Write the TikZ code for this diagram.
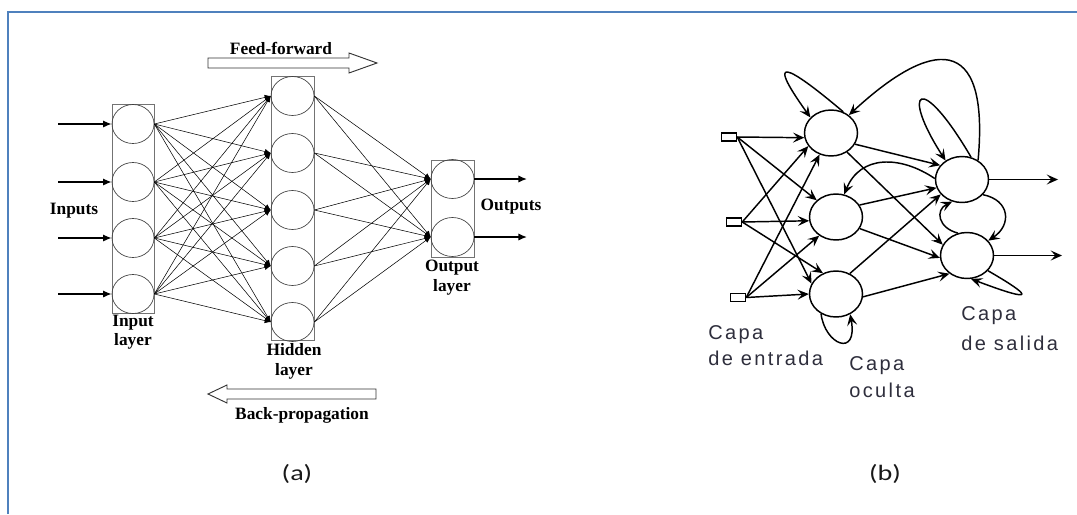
\documentclass[tikz,border=0pt]{standalone}
\usepackage{fontspec}
\setmainfont{Liberation Serif}
\newfontfamily\capfont[LetterSpace=12]{Liberation Sans}
\newfontfamily\tagfont[FakeStretch=1.28]{Carlito}
\usetikzlibrary{arrows.meta,shapes.geometric}
\definecolor{framecol}{HTML}{4F81BD}
\definecolor{capcol}{HTML}{2E2E3C}

\begin{document}
\begin{tikzpicture}[x=0.75pt,y=-0.75pt,
  neuron/.style={draw=black!75, line width=0.5pt, ellipse, minimum width=31.5pt, minimum height=29.25pt, inner sep=0pt},
  layerbox/.style={draw=black!55, line width=0.6pt, rectangle, inner sep=0pt},
  wire/.style={draw=black, line width=0.4pt, -{Latex[length=4.5pt,width=4pt]}},
  feed/.style={line width=1.1pt, -{Latex[length=6.5pt,width=5.5pt]}},
  lbl/.style={font=\bfseries\fontsize{13}{14.5}\selectfont, align=center, inner sep=0pt},
  bigarrow/.style={draw=black!80, line width=0.7pt, fill=white},
  unit/.style={draw, ellipse, line width=1.1pt, minimum width=39.75pt, minimum height=34.5pt, inner sep=0pt},
  port/.style={draw, rectangle, line width=1.1pt, minimum width=11.25pt, minimum height=6pt, inner sep=0pt},
  link/.style={line width=1.1pt, -{Stealth[length=8.5pt,width=7.5pt,inset=3.5pt]}},
  captxt/.style={font=\capfont\fontsize{15}{20}\selectfont, text=capcol, align=left, inner sep=0pt, anchor=west},
  tag/.style={font=\tagfont\fontsize{16.5}{20}\selectfont, text=black!90, inner sep=0pt},
]
\useasboundingbox (0,0) rectangle (1077,514);

% outer frame
\draw[framecol, line width=2.2pt] (8,514) -- (8,12) -- (1077,12);

%% (a) feed-forward network
\node[layerbox, minimum width=31.5pt, minimum height=156.75pt] (inbox) at (133,208.5) {};
\node[layerbox, minimum width=32.25pt, minimum height=198pt] (hidbox) at (292.5,208) {};
\node[layerbox, minimum width=32.25pt, minimum height=72.75pt] (outbox) at (452.5,208.5) {};

\foreach \n/\y in {1/124,2/182,3/238,4/294}
  \node[neuron] (i\n) at (133,\y) {};
\foreach \n/\y in {1/96,2/153,3/210,4/266,5/322}
  \node[neuron, minimum width=32.25pt] (h\n) at (292.5,\y) {};
\foreach \n/\y in {1/179,2/237}
  \node[neuron, minimum width=32.25pt] (o\n) at (452.5,\y) {};

\foreach \i in {1,...,4}
  \foreach \h in {1,...,5}
    \draw[wire] (i\i.east) -- (h\h.west);
\foreach \h in {1,...,5}
  \foreach \o in {1,2}
    \draw[wire] (h\h.east) -- (o\o.west);

\foreach \n/\y in {1/124,2/182,3/238,4/294} {
  \coordinate (x\n) at (58,\y);
  \draw[feed] (x\n) -- (i\n);
}
\foreach \n/\y in {1/179,2/237} {
  \coordinate (y\n) at (527,\y);
  \draw[feed] (o\n) -- (y\n);
}

\node[lbl] (inputs) at (74,211) {Inputs};
\node[lbl] (outputs) at (511,207) {Outputs};
\node[lbl] (inlbl) at (133,332.5) {Input\\layer};
\node[lbl] (hidlbl) at (294,361.5) {Hidden\\layer};
\node[lbl] (outlbl) at (452,277.5) {Output\\layer};

\draw[bigarrow] (208,58) -- (349,58) -- (349,53) -- (377,63) -- (349,73) -- (349,68) -- (208,68) -- cycle;
\node[lbl] (fflbl) at (281,48) {Feed-forward};
\draw[bigarrow] (376,389) -- (227,389) -- (227,385) -- (208,394) -- (227,403) -- (227,399) -- (376,399) -- cycle;
\node[lbl] (bplbl) at (302,415) {Back-propagation};

\node[tag] (taga) at (297,474) {(a)};

%% (b) recurrent network
\node[unit] (N1) at (831,133) {};
\node[unit] (N2) at (836,217) {};
\node[unit] (N3) at (836,294) {};
\node[unit] (O1) at (962,179.5) {};
\node[unit] (O2) at (967,255.5) {};
\node[port] (I1) at (729,137) {};
\node[port] (I2) at (734,222) {};
\node[port] (I3) at (738,297.5) {};

% input ports to hidden units
\draw[link] (I1.east) -- (N1.190);
\draw[link] (I1.east) -- (N2.139);
\draw[link] (I1.east) -- (N3.157);
\draw[link] (I2.east) -- (N1.210);
\draw[link] (I2.east) -- (N2.188);
\draw[link] (I2.east) -- (N3.122);
\draw[link] (I3.east) -- (N1.242);
\draw[link] (I3.east) -- (N2.228);
\draw[link] (I3.east) -- (N3.west);

% hidden units to output units
\draw[link] (N1.-25) -- (O1.147);
\draw[link] (N1.-50) -- (O2.156);
\draw[link] (N2.27) -- (O1.198);
\draw[link] (N2.-26) -- (O2.185);
\draw[link] (N3.56) -- (O1.215);
\draw[link] (N3.-6) -- (O2.226);

% feedback and self loops
\draw[link] (N1.60) .. controls (770,50) and (775,68) .. (N1.143);
\draw[link] (O1.50) .. controls (990,30) and (930,40) .. (N1.45);
\draw[link] (O1.68) .. controls (920,70) and (900,90) .. (O1.131);
\draw[link] (O1.178) .. controls (900,155) and (860,155) .. (N2.70);
\draw[link] (O1.-36) .. controls (1010,200) and (1012,225) .. (O2.35);
\draw[link] (O2.112) .. controls (938,228) and (935,210) .. (O1.246);
\draw[link] (O2.-36) .. controls (1030,295) and (1040,305) .. (O2.-80);
\draw[link] (N3.-127) .. controls (825,345) and (858,358) .. (N3.-55);

% outputs
\coordinate (z1) at (1058,179.5);
\coordinate (z2) at (1062,255.5);
\draw[link] (O1) -- (z1);
\draw[link] (O2) -- (z2);

\node[captxt] (capin) at (708,345.5) {Capa\\de entrada};
\node[captxt] (caphid) at (849,377) {Capa\\oculta};
\node[captxt, font=\capfont\fontsize{15}{22.5}\selectfont] (capout) at (961,329) {Capa\\de salida};

\node[tag] (tagb) at (885,474) {(b)};
\end{tikzpicture}
\end{document}
